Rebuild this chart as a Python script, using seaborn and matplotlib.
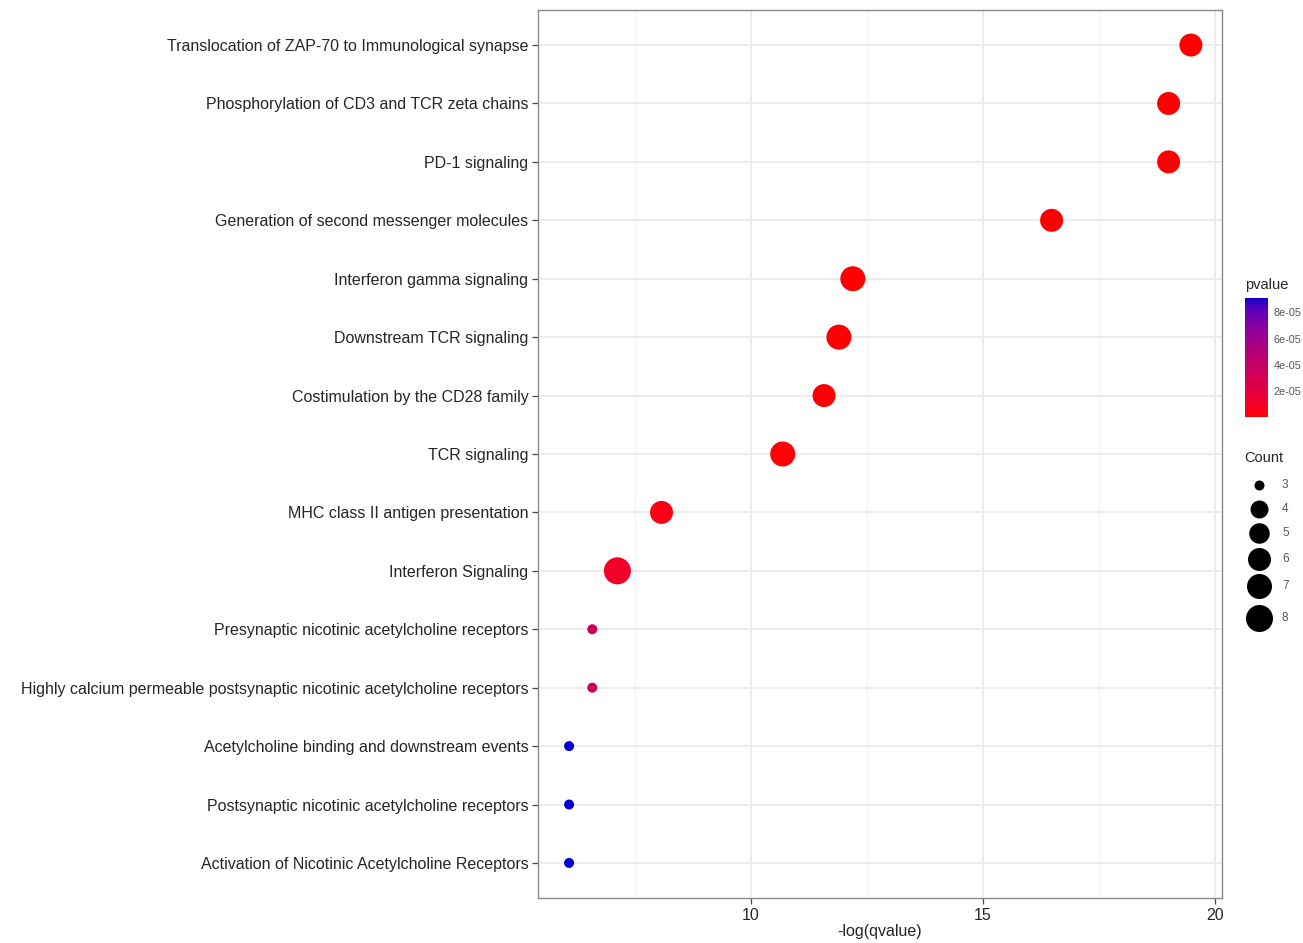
import numpy as np
import pandas as pd
import matplotlib
matplotlib.use("Agg")
import matplotlib.pyplot as plt
import seaborn as sns
from matplotlib.colors import LinearSegmentedColormap, Normalize
from matplotlib.cm import ScalarMappable
from matplotlib.lines import Line2D

# ---- enrichment results (top to bottom) ----
pathways = [
    "Translocation of ZAP-70 to Immunological synapse",
    "Phosphorylation of CD3 and TCR zeta chains",
    "PD-1 signaling",
    "Generation of second messenger molecules",
    "Interferon gamma signaling",
    "Downstream TCR signaling",
    "Costimulation by the CD28 family",
    "TCR signaling",
    "MHC class II antigen presentation",
    "Interferon Signaling",
    "Presynaptic nicotinic acetylcholine receptors",
    "Highly calcium permeable postsynaptic nicotinic acetylcholine receptors",
    "Acetylcholine binding and downstream events",
    "Postsynaptic nicotinic acetylcholine receptors",
    "Activation of Nicotinic Acetylcholine Receptors",
]
neg_log_q = [19.48, 19.0, 19.0, 16.48, 12.2, 11.9, 11.58, 10.69, 8.08, 7.13,
             6.59, 6.59, 6.09, 6.09, 6.09]
pvalues = [2e-09, 4e-09, 4e-09, 5e-08, 3e-07, 4e-07, 6e-07, 1.2e-06, 3.5e-06, 1.0e-05,
           3.2e-05, 3.2e-05, 9.1e-05, 9.1e-05, 9.1e-05]
counts = [6, 6, 6, 6, 7, 7, 6, 7, 6, 8, 3, 3, 3, 3, 3]

legend_counts = [3, 4, 5, 6, 7, 8]
pvalue_ticks = [2e-05, 4e-05, 6e-05, 8e-05]
x_ticks = [10, 15, 20]

df = pd.DataFrame({"pathway": pathways, "neg_log_q": neg_log_q,
                   "pvalue": pvalues, "Count": counts})

# ---- style ----
W, H, DPI = 1303, 943, 100
sns.set_theme(style="white")
plt.rcParams["font.family"] = ["Liberation Sans", "DejaVu Sans"]
text_col = "#262626"


def _srgb_to_lab(rgb):
    c = np.asarray(rgb, float)
    lin = np.where(c <= 0.04045, c / 12.92, ((c + 0.055) / 1.055) ** 2.4)
    m = np.array([[0.4124, 0.3576, 0.1805],
                  [0.2126, 0.7152, 0.0722],
                  [0.0193, 0.1192, 0.9505]])
    xyz = m @ lin / np.array([0.95047, 1.0, 1.08883])
    f = np.where(xyz > 0.008856, np.cbrt(xyz), 7.787 * xyz + 16 / 116)
    return np.array([116 * f[1] - 16, 500 * (f[0] - f[1]), 200 * (f[1] - f[2])])


def _lab_to_srgb(lab):
    L, a, b = lab
    fy = (L + 16) / 116
    fx, fz = fy + a / 500, fy - b / 200
    f = np.array([fx, fy, fz])
    xyz = np.where(f ** 3 > 0.008856, f ** 3, (f - 16 / 116) / 7.787)
    xyz = xyz * np.array([0.95047, 1.0, 1.08883])
    minv = np.array([[3.2406, -1.5372, -0.4986],
                     [-0.9689, 1.8758, 0.0415],
                     [0.0557, -0.2040, 1.0570]])
    lin = np.clip(minv @ xyz, 0, 1)
    c = np.where(lin <= 0.0031308, 12.92 * lin, 1.055 * lin ** (1 / 2.4) - 0.055)
    return np.clip(c, 0, 1)


def lab_gradient(low, high, n=256):
    l0, l1 = _srgb_to_lab(low), _srgb_to_lab(high)
    cols = [_lab_to_srgb(l0 + t * (l1 - l0)) for t in np.linspace(0, 1, n)]
    return LinearSegmentedColormap.from_list("red_blue", cols)


cmap = lab_gradient((1, 0, 0), (0, 0, 0.8))
p_norm = Normalize(vmin=0, vmax=max(pvalues))

# point diameter (pixels) for each Count
diam_px = {3: 10, 4: 18, 5: 20.5, 6: 23, 7: 25, 8: 27}
area_pt2 = {k: (v * 72 / DPI) ** 2 for k, v in diam_px.items()}

fig = plt.figure(figsize=(W / DPI, H / DPI), dpi=DPI)
fig.patch.set_facecolor("white")

left, right, top, bottom = 538, 1222, 10, 898
ax = fig.add_axes([left / W, 1 - bottom / H, (right - left) / W, (bottom - top) / H])
ax.set_facecolor("white")

sns.scatterplot(data=df, x="neg_log_q", y="pathway", hue="pvalue", size="Count",
                palette=cmap, hue_norm=p_norm,
                sizes={k: area_pt2[k] for k in sorted(set(counts))},
                edgecolor="none", linewidth=0, legend=False, ax=ax, zorder=3)

# axes limits with ggplot-style expansion
xmin, xmax = min(neg_log_q), max(neg_log_q)
pad = 0.05 * (xmax - xmin)
ax.set_xlim(xmin - pad, xmax + pad)
ax.set_ylim(len(pathways) - 1 + 0.6, -0.6)

ax.set_xticks(x_ticks)
ax.set_xticks([7.5, 12.5, 17.5], minor=True)
ax.grid(True, which="major", color="#ebebeb", linewidth=1.3, zorder=0)
ax.grid(True, which="minor", axis="x", color="#f2f2f2", linewidth=0.8, zorder=0)
ax.set_axisbelow(True)
for s in ax.spines.values():
    s.set_color("#8a8a8a")
    s.set_linewidth(1.0)

ax.tick_params(axis="both", which="major", direction="out", length=4, width=0.9,
               color="#444444", labelcolor=text_col, labelsize=11.5, pad=3)
ax.tick_params(axis="x", which="minor", length=0)
ax.tick_params(left=True, bottom=True)
ax.set_xlabel("-log(qvalue)", fontsize=11.5, color=text_col, labelpad=1)
ax.set_ylabel("")

# ---- pvalue colour bar ----
cax = fig.add_axes([1245 / W, 1 - 417 / H, 23 / W, (417 - 298) / H])
cb = fig.colorbar(ScalarMappable(norm=p_norm, cmap=cmap), cax=cax)
cb.outline.set_visible(False)
cb.set_ticks(pvalue_ticks)
cb.set_ticklabels([f"{t:.0e}" for t in pvalue_ticks])
cax.tick_params(axis="y", length=4, width=0.8, color="white", direction="in",
                labelsize=7.8, labelcolor="#555555", pad=4)
fig.text(1245 / W, 1 - 285 / H, "pvalue", fontsize=10.5, color=text_col,
         va="center", ha="left")

# ---- Count size key ----
fig.text(1244 / W, 1 - 458 / H, "Count", fontsize=10.5, color=text_col,
         va="center", ha="left")
key_rows = [485, 509, 533, 559, 586, 618]
for c, yy in zip(legend_counts, key_rows):
    fig.add_artist(Line2D([1259 / W], [1 - yy / H], transform=fig.transFigure,
                          marker="o", markersize=diam_px[c] * 72 / DPI,
                          color="black", markeredgewidth=0, linestyle="none"))
    fig.text(1282 / W, 1 - yy / H, str(c), fontsize=8.5, color="#555555",
             va="center", ha="left")

fig.savefig("out.png", dpi=DPI, facecolor="white")
